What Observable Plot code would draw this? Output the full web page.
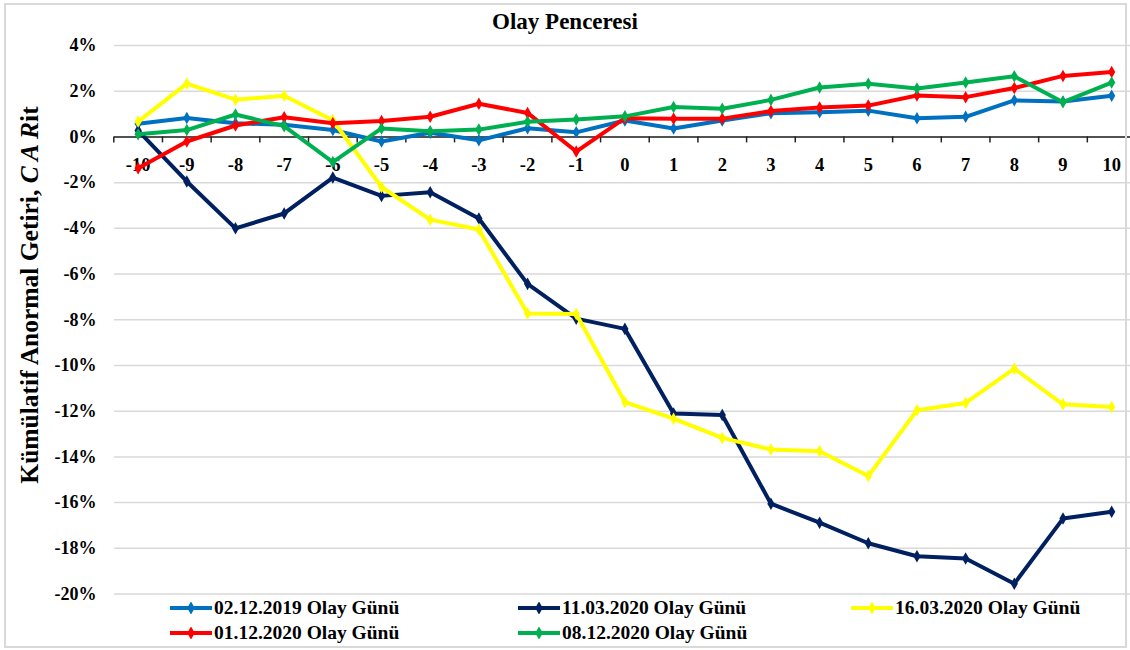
<!DOCTYPE html>
<html>
<head>
<meta charset="utf-8">
<script src="https://cdn.jsdelivr.net/npm/d3@7"></script>
<script src="https://cdn.jsdelivr.net/npm/@observablehq/plot@0.6"></script>
<style>
  html, body { margin: 0; padding: 0; background: #fff; }
  body { width: 1130px; height: 650px; position: relative; overflow: hidden;
         font-family: "Liberation Serif", "Times New Roman", serif; font-weight: bold; color: #000; }
  #frame { position: absolute; left: 4px; top: 3px; width: 1119px; height: 641px;
           border: 2px solid #d9d9d9; pointer-events: none; }
  #title { padding-top: 11px; height: 22px; line-height: 22px; text-align: center; font-size: 23px; }
  #chart svg { display: block; }
  #legend { display: grid; grid-template-columns: 348px 333px 240px; padding-left: 170px;
            grid-auto-rows: 25px; margin-top: -10px; font-size: 19.5px; position: relative; }
  .item { display: flex; align-items: center; white-space: nowrap; }
  .item svg { margin-right: 2px; }
</style>
</head>
<body>
<div id="frame"></div>
<div id="title">Olay Penceresi</div>
<div id="chart"></div>
<div id="legend"></div>
<script>
// Event window days
const days = [-10, -9, -8, -7, -6, -5, -4, -3, -2, -1, 0, 1, 2, 3, 4, 5, 6, 7, 8, 9, 10];

// Series (cumulative abnormal return, %)
const seriesNames = ["02.12.2019 Olay Günü", "11.03.2020 Olay Günü", "16.03.2020 Olay Günü", "01.12.2020 Olay Günü", "08.12.2020 Olay Günü"];
const seriesColors = ["#0070C0", "#002060", "#FFFF00", "#FF0000", "#00B050"];

const car20191202 = [0.58, 0.83, 0.60, 0.53, 0.30, -0.20, 0.18, -0.15, 0.38, 0.20, 0.72, 0.37, 0.72, 1.04, 1.08, 1.15, 0.82, 0.88, 1.60, 1.55, 1.80];
const car20200311 = [0.28, -1.95, -4.00, -3.35, -1.78, -2.58, -2.42, -3.57, -6.43, -7.95, -8.40, -12.10, -12.17, -16.05, -16.88, -17.78, -18.35, -18.45, -19.55, -16.70, -16.40];
const car20200316 = [0.67, 2.33, 1.63, 1.80, 0.73, -2.19, -3.62, -4.05, -7.73, -7.75, -11.60, -12.33, -13.17, -13.68, -13.75, -14.84, -11.96, -11.64, -10.14, -11.70, -11.82];
const car20201201 = [-1.37, -0.20, 0.50, 0.86, 0.60, 0.70, 0.88, 1.45, 1.05, -0.64, 0.82, 0.80, 0.80, 1.13, 1.29, 1.37, 1.81, 1.74, 2.14, 2.67, 2.84];
const car20201208 = [0.12, 0.30, 0.98, 0.47, -1.10, 0.37, 0.25, 0.32, 0.66, 0.76, 0.90, 1.31, 1.23, 1.62, 2.16, 2.33, 2.12, 2.38, 2.65, 1.52, 2.38];

const seriesValues = [car20191202, car20200311, car20200316, car20201201, car20201208];

// Axis ticks
const yTicks = [-20, -18, -16, -14, -12, -10, -8, -6, -4, -2, 0, 2, 4];
const yLabel = "Kümülatif Anormal Getiri, ";
const yLabelItalic = "C A R";
const yLabelTail = "it";

// Long table built from the arrays
const rows = seriesNames.flatMap((s, si) => days.map((d, i) => ({series: s, day: d, value: seriesValues[si][i]})));
const tickBounds = days.map(d => d - 0.5);

const seriesMarks = seriesNames.flatMap(s => {
  const data = rows.filter(r => r.series === s);
  return [
    Plot.line(data, {x: "day", y: "value", stroke: "series", strokeWidth: 4, strokeLinejoin: "round"}),
    Plot.dot(data, {x: "day", y: "value", fill: "series", symbol: "diamond", r: 3.8, stroke: "none"})
  ];
});

const plot = Plot.plot({
  width: 1130,
  height: 572,
  marginTop: 12,
  marginBottom: 11.5,
  marginLeft: 114,
  marginRight: 0,
  style: {fontFamily: "Liberation Serif, Times New Roman, serif", fontSize: "18px", fontWeight: "bold", color: "#000", background: "transparent", overflow: "visible"},
  x: {domain: [-10.5, 10.5], range: [113.3, 1135.5], axis: null},
  y: {domain: [-20, 4], axis: null},
  color: {domain: seriesNames, range: seriesColors},
  marks: [
    Plot.gridY(yTicks, {stroke: "#d9d9d9", strokeOpacity: 1, strokeWidth: 1.5}),
    Plot.axisY({ticks: yTicks, tickSize: 0, tickPadding: 18, tickFormat: d => d + "%", label: null, fill: "#000"}),
    Plot.ruleY([0], {stroke: "#222", strokeWidth: 1.5}),
    Plot.ruleX(tickBounds, {x: d => d, y1: 0, y2: 0, insetBottom: -6, stroke: "#222", strokeWidth: 1.5}),
    Plot.text(days, {x: d => d, y: 0, dy: 28, text: d => String(d), fill: "#000", fontSize: 18.5, fontWeight: "bold"}),
    ...seriesMarks
  ]
});

document.getElementById("chart").appendChild(plot);

// Y axis title with italic part
const svg = d3.select(plot);
const t = svg.append("text")
  .attr("transform", "translate(32,262) rotate(-90)")
  .attr("text-anchor", "middle")
  .attr("dominant-baseline", "middle")
  .attr("font-size", 25.5)
  .attr("font-weight", "bold")
  .attr("fill", "#000");
t.append("tspan").text(yLabel);
t.append("tspan").attr("font-style", "italic").text(yLabelItalic);
t.append("tspan").text(yLabelTail);

// Legend
const legend = document.getElementById("legend");
seriesNames.forEach((name, i) => {
  const item = document.createElement("div");
  item.className = "item";
  const sw = d3.create("svg").attr("width", 42).attr("height", 12);
  sw.append("line").attr("x1", 0).attr("x2", 42).attr("y1", 6).attr("y2", 6)
    .attr("stroke", seriesColors[i]).attr("stroke-width", 4);
  sw.append("path").attr("transform", "translate(21,6)")
    .attr("d", d3.symbol(d3.symbolDiamond, 50)()).attr("fill", seriesColors[i]);
  item.appendChild(sw.node());
  const span = document.createElement("span");
  span.textContent = name;
  item.appendChild(span);
  legend.appendChild(item);
});
</script>
</body>
</html>
